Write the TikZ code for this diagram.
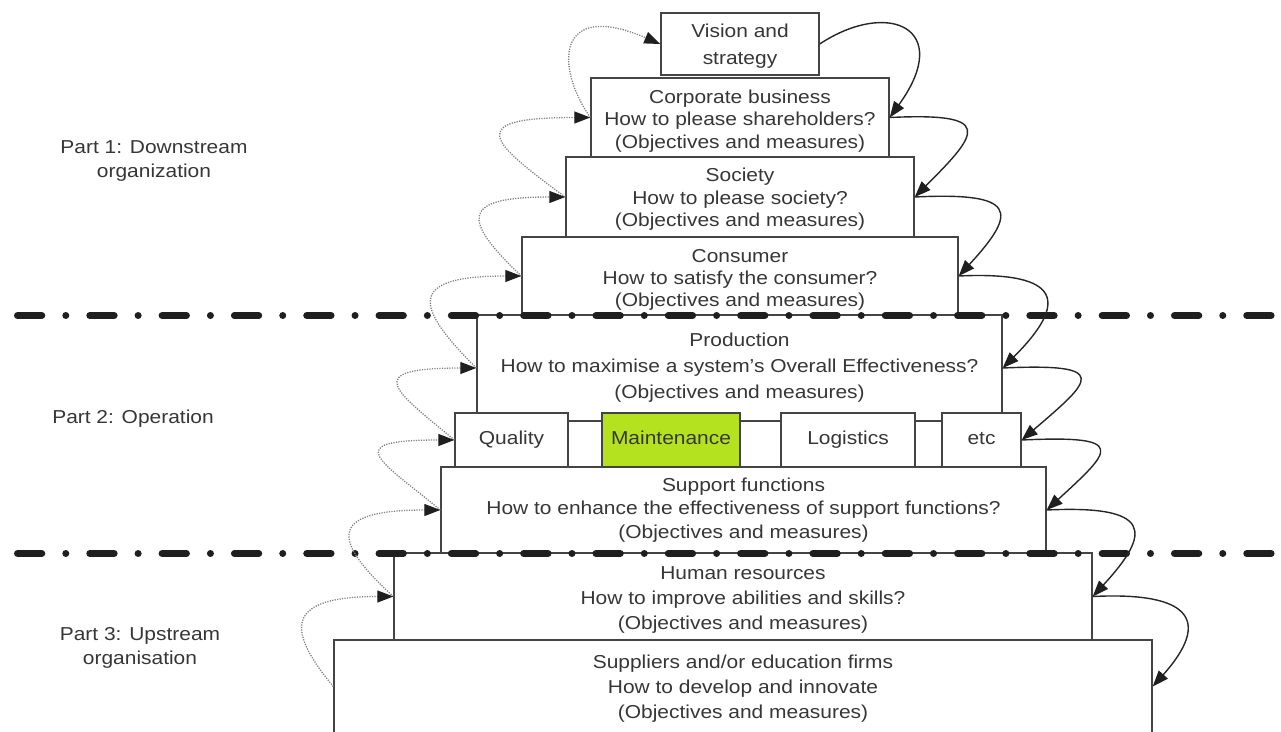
\documentclass[tikz,border=0pt]{standalone}
\usepackage{fontspec}
\setmainfont{Liberation Sans}[FakeStretch=1.12]
\usetikzlibrary{arrows.meta}
\definecolor{ink}{HTML}{363636}
\definecolor{edge}{HTML}{444444}
\definecolor{leaf}{RGB}{181,226,30}
\newcommand{\tierfont}[1]{\fontsize{18.7}{#1}\selectfont}
\begin{document}
\begin{tikzpicture}[x=1pt,y=-1pt,
  tier/.style={draw=edge, line width=1.4pt, rectangle, inner sep=0pt},
  txt/.style={align=center, text=ink, inner sep=0pt},
  unit/.style={tier, fill=white, minimum height=54pt, text=ink,
    font=\tierfont{22}, text height=13.4pt, text depth=3.6pt},
  lbl/.style={align=center, text=ink, font=\tierfont{24}},
  border/.style={draw=black!88, line width=7pt, line cap=round,
    dash pattern=on 24.3pt off 24pt on 0.01pt off 24pt},
  tip/.style={-{Triangle[length=16pt,width=12pt,color=black!88]}},
  fwd/.style={draw=black!85, line width=1.4pt, tip},
  back/.style={draw=black!50, line width=1.3pt,
    dash pattern=on 1.2pt off 1.3pt, tip}]
\useasboundingbox (0,0) rectangle (1281,731);

% stacked tiers
\node[tier, minimum width=158pt, minimum height=62pt] (vis) at (740,44) {};
\node[tier, minimum width=298pt, minimum height=79pt] (corp) at (740,117.5) {};
\node[tier, minimum width=348pt, minimum height=80pt] (soc) at (740,197) {};
\node[tier, minimum width=436pt, minimum height=78pt] (cons) at (740,276) {};
\node[tier, minimum width=525pt, minimum height=106pt] (prod) at (739.5,368) {};
\node[tier, minimum width=605pt, minimum height=86pt] (supp) at (743.5,510) {};
\node[tier, minimum width=698pt, minimum height=87pt] (hr) at (743,596.5) {};
\node[tier, minimum width=818pt, minimum height=93pt] (sup) at (743,686.5) {};

% tier texts
\node[txt, font=\tierfont{27}] (visT) at ([yshift=-2pt]vis.center)
  {Vision and\\strategy};
\node[txt, font=\tierfont{22.5}] (corpT) at ([yshift=-3.5pt]corp.center)
  {Corporate business\\How to please shareholders?\\(Objectives and measures)};
\node[txt, font=\tierfont{22.5}] (socT) at ([yshift=-2.5pt]soc.center)
  {Society\\How to please society?\\(Objectives and measures)};
\node[txt, font=\tierfont{22}] (consT) at ([yshift=-3.5pt]cons.center)
  {Consumer\\How to satisfy the consumer?\\(Objectives and measures)};
\node[txt, font=\tierfont{26}] (prodT) at (prod.center)
  {Production\\How to maximise a system's Overall Effectiveness?\\(Objectives and measures)};
\node[txt, font=\tierfont{23.5}] (suppT) at (supp.center)
  {Support functions\\How to enhance the effectiveness of support functions?\\(Objectives and measures)};
\node[txt, font=\tierfont{25}] (hrT) at ([yshift=-3pt]hr.center)
  {Human resources\\How to improve abilities and skills?\\(Objectives and measures)};
\node[txt, font=\tierfont{25}] (supT) at ([yshift=-2pt]sup.center)
  {Suppliers and/or education firms\\How to develop and innovate\\(Objectives and measures)};

% support units
\node[unit, minimum width=113pt] (qual) at (511.5,440) {Quality};
\node[unit, minimum width=138pt, fill=leaf] (maint) at (671,440) {Maintenance};
\node[unit, minimum width=134pt] (logi) at (848,440) {Logistics};
\node[unit, minimum width=79pt] (etc) at (981.5,440) {etc};

% part labels
\node[lbl] (p1) at (154,161) {Part 1: Downstream\\organization};
\node[lbl] (p2) at (133,419) {Part 2: Operation};
\node[lbl] (p3) at (140,648) {Part 3: Upstream\\organisation};

% part borders
\coordinate (b1l) at (17.5,315.5);
\coordinate (b1r) at (1278,315.5);
\coordinate (b2l) at (17.5,553.5);
\coordinate (b2r) at (1278,553.5);
\draw[border] (b1l) -- (b1r);
\draw[border] (b2l) -- (b2r);

% downward cascade
\draw[fwd] (vis.east) .. controls +(68,-45) and +(65,-90) .. (corp.east);
\draw[fwd] (corp.east) .. controls +(105,-5) and +(65,-65) .. (soc.east);
\draw[fwd] (soc.east) .. controls +(102,-5) and +(60,-65) .. (cons.east);
\draw[fwd] (cons.east) .. controls +(105,-5) and +(65,-65) .. (prod.east);
\draw[fwd] (prod.east) .. controls +(110,-5) and +(70,-60) .. (etc.east);
\draw[fwd] (etc.east) .. controls +(108,-5) and +(65,-60) .. (supp.east);
\draw[fwd] (supp.east) .. controls +(105,-5) and +(60,-65) .. (hr.east);
\draw[fwd] (hr.east) .. controls +(100,-5) and +(58,-65) .. (sup.east);

% upward feedback
\draw[back] (corp.west) .. controls +(-35,-50) and +(-105,-45) .. (vis.west);
\draw[back] (soc.west) .. controls +(-75,-55) and +(-128,0) .. (corp.west);
\draw[back] (cons.west) .. controls +(-60,-57) and +(-105,0) .. (soc.west);
\draw[back] (prod.west) .. controls +(-60,-60) and +(-117,0) .. (cons.west);
\draw[back] (qual.west) .. controls +(-60,-50) and +(-116,0) .. (prod.west);
\draw[back] (supp.west) .. controls +(-60,-50) and +(-116,0) .. (qual.west);
\draw[back] (hr.west) .. controls +(-60,-55) and +(-115,0) .. (supp.west);
\draw[back] (sup.west) .. controls +(-50,-60) and +(-105,0) .. (hr.west);
\end{tikzpicture}
\end{document}
